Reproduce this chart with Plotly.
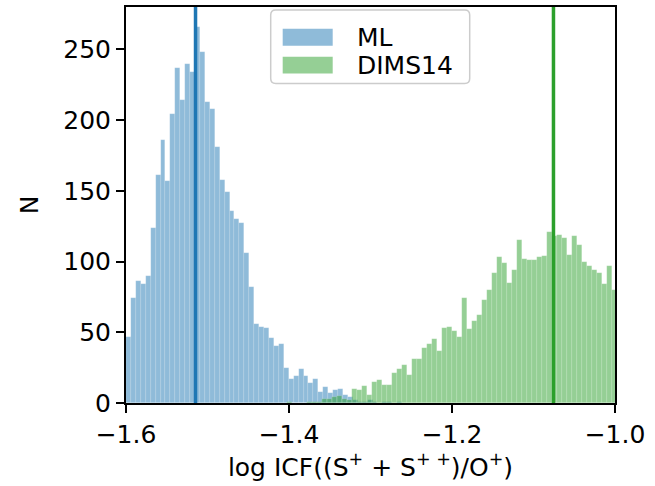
import plotly.graph_objects as go

# Histogram counts per bin (left edge + fixed bin width)
ml_start = -1.6
ml_width = 0.00605
ml_counts = [47, 74, 86, 84, 90, 124, 161, 186, 157, 204, 237, 214, 240, 234, 266,
             248, 213, 208, 181, 158, 149, 136, 130, 127, 106, 82, 56, 54, 53, 46,
             40, 42, 25, 17, 19, 24, 19, 14, 17, 8, 11, 7, 9, 10, 6, 4, 2, 1, 1, 2,
             1, 0, 1, 1, 0, 1]

dims_start = -1.40196
dims_width = 0.006135
dims_counts = [1, 0, 0, 0, 1, 1, 1, 3, 3, 4, 5, 3, 2, 10, 9, 12, 6, 15, 16, 13, 13,
               21, 24, 27, 20, 31, 31, 39, 42, 45, 37, 53, 54, 51, 47, 74, 52, 58,
               62, 73, 80, 92, 103, 99, 85, 94, 115, 102, 101, 101, 103, 104, 121,
               118, 119, 117, 105, 118, 112, 100, 97, 94, 92, 84, 97, 80]

# Medians of the two distributions
ml_median = -1.5147
dims_median = -1.0755

series_names = ["ML", "DIMS14"]
x_ticks = [-1.6, -1.4, -1.2, -1.0]
y_ticks = [0, 50, 100, 150, 200, 250]

BLUE = "#1f77b4"
GREEN = "#2ca02c"
BLUE_FILL = "rgba(31,119,180,0.5)"
GREEN_FILL = "rgba(44,160,44,0.5)"
FONT = "DejaVu Sans"
FS = 25


def centers(start, width, n):
    return [start + width * (i + 0.5) for i in range(n)]


fig = go.Figure()
fig.add_trace(go.Bar(
    x=centers(ml_start, ml_width, len(ml_counts)), y=ml_counts, width=ml_width,
    marker=dict(color=BLUE_FILL, line=dict(width=0.5, color="rgba(255,255,255,0.3)")),
    name=series_names[0], showlegend=False,
))
fig.add_trace(go.Bar(
    x=centers(dims_start, dims_width, len(dims_counts)), y=dims_counts, width=dims_width,
    marker=dict(color=GREEN_FILL, line=dict(width=0.5, color="rgba(255,255,255,0.3)")),
    name=series_names[1], showlegend=False,
))

shapes = [
    dict(type="line", xref="x", yref="paper", x0=ml_median, x1=ml_median, y0=0, y1=1,
         line=dict(color=BLUE, width=3.5)),
    dict(type="line", xref="x", yref="paper", x0=dims_median, x1=dims_median, y0=0, y1=1,
         line=dict(color=GREEN, width=3.5)),
]

# Legend box (paper coordinates), rounded corners
W_PX, H_PX = 489.0, 398.3


def rounded_rect(x0, y0, x1, y1, r_px):
    rx = r_px / W_PX
    ry = r_px / H_PX
    return (f"M {x0+rx},{y0} L {x1-rx},{y0} Q {x1},{y0} {x1},{y0+ry} "
            f"L {x1},{y1-ry} Q {x1},{y1} {x1-rx},{y1} L {x0+rx},{y1} "
            f"Q {x0},{y1} {x0},{y1-ry} L {x0},{y0+ry} Q {x0},{y0} {x0+rx},{y0} Z")


def px_x(p):
    return (p - 126.3) / W_PX


def px_y(p):
    return (403.3 - p) / H_PX


shapes.append(dict(type="path", xref="paper", yref="paper",
                   path=rounded_rect(px_x(271), px_y(82), px_x(470), px_y(8), 5),
                   fillcolor="rgba(255,255,255,0.8)", line=dict(color="#cccccc", width=1.5)))
legend_rows = [(BLUE_FILL, 27, 44, series_names[0]), (GREEN_FILL, 55, 72, series_names[1])]
annotations = []
for fill, top, bot, label in legend_rows:
    shapes.append(dict(type="rect", xref="paper", yref="paper",
                       x0=px_x(283), x1=px_x(333), y0=px_y(bot), y1=px_y(top),
                       fillcolor=fill, line=dict(width=0)))
    annotations.append(dict(xref="paper", yref="paper", x=px_x(355), y=px_y((top + bot) / 2),
                            text=label, showarrow=False, xanchor="left", yanchor="middle",
                            font=dict(family=FONT, size=FS, color="black")))

axis_common = dict(
    showline=True, linecolor="black", linewidth=2, mirror=True,
    ticks="outside", ticklen=8, tickwidth=2, tickcolor="black",
    showgrid=False, zeroline=False,
    tickfont=dict(family=FONT, size=FS, color="black"),
)

fig.update_layout(
    width=655, height=486,
    margin=dict(l=126, r=40, t=5, b=83),
    paper_bgcolor="white", plot_bgcolor="white",
    barmode="overlay", bargap=0,
    shapes=shapes, annotations=annotations,
    xaxis=dict(range=[-1.6, -1.0], tickvals=x_ticks, tickformat=".1f",
               title=dict(text="log ICF((S<sup>+</sup> + S<sup>+ +</sup>)/O<sup>+</sup>)",
                          font=dict(family=FONT, size=FS, color="black"), standoff=10),
               **axis_common),
    yaxis=dict(range=[0, 280], tickvals=y_ticks,
               title=dict(text="N", font=dict(family=FONT, size=FS, color="black"), standoff=18),
               **axis_common),
)

fig.write_html("out.html")
